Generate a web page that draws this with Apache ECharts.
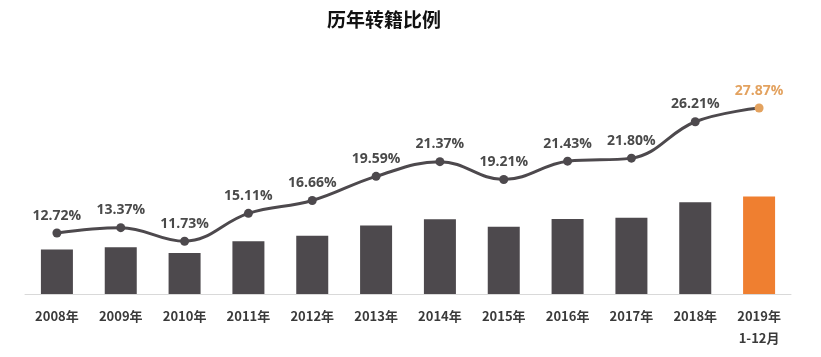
<!DOCTYPE html>
<html><head><meta charset="utf-8">
<script src="https://cdn.jsdelivr.net/npm/echarts@6/dist/echarts.min.js"></script>
<style>html,body{margin:0;padding:0;background:#fff}#c{width:821px;height:357px}</style>
</head><body><div id="c"></div>
<script>
const titleText = '历年转籍比例';
const categories = ['2008年','2009年','2010年','2011年','2012年','2013年','2014年','2015年','2016年','2017年','2018年','2019年\n1-12月'];
const ratioValues = [12.72, 13.37, 11.73, 15.11, 16.66, 19.59, 21.37, 19.21, 21.43, 21.80, 26.21, 27.87];

const darkC = '#4d494d';
const orange = '#ef7f30';
const orangeLabel = '#e3a25f';
const last = ratioValues.length - 1;

const chart = echarts.init(document.getElementById('c'));
chart.setOption({
  animation: false,
  title: {
    text: titleText, left: 322, top: 5,
    textStyle: { fontSize: 19, fontWeight: 'bold', color: '#111', fontFamily: '"Noto Sans CJK SC", sans-serif' }
  },
  grid: { left: 25, right: 30, top: 48, bottom: 63 },
  xAxis: {
    type: 'category', data: categories,
    axisLine: { lineStyle: { color: '#d9d9d9', width: 1 } },
    axisTick: { show: false },
    axisLabel: { color: '#3a3a3a', fontSize: 13, fontWeight: 'bold', margin: 11, lineHeight: 22,
      fontFamily: '"Noto Sans CJK SC", sans-serif' }
  },
  yAxis: [
    { type: 'value', min: 0, max: 70.3, show: false, splitLine: { show: false } },
    { type: 'value', min: 5.33, max: 35.15, show: false, splitLine: { show: false } }
  ],
  series: [
    {
      type: 'bar', yAxisIndex: 0, barWidth: 32,
      data: ratioValues.map((v, i) => ({ value: v, itemStyle: { color: i === last ? orange : darkC } }))
    },
    {
      type: 'line', yAxisIndex: 1, smooth: 0.4,
      symbol: 'circle', symbolSize: 9,
      lineStyle: { color: darkC, width: 3 },
      itemStyle: { color: darkC },
      label: {
        show: true, position: 'top', distance: 6,
        formatter: p => p.value.toFixed(2) + '%',
        color: '#4a4a4a', fontSize: 14, fontWeight: 'bold',
        fontFamily: '"Open Sans", sans-serif'
      },
      data: ratioValues.map((v, i) => i === last ? {
        value: v, itemStyle: { color: orangeLabel },
        label: { color: orangeLabel }
      } : v)
    }
  ]
});
</script></body></html>
